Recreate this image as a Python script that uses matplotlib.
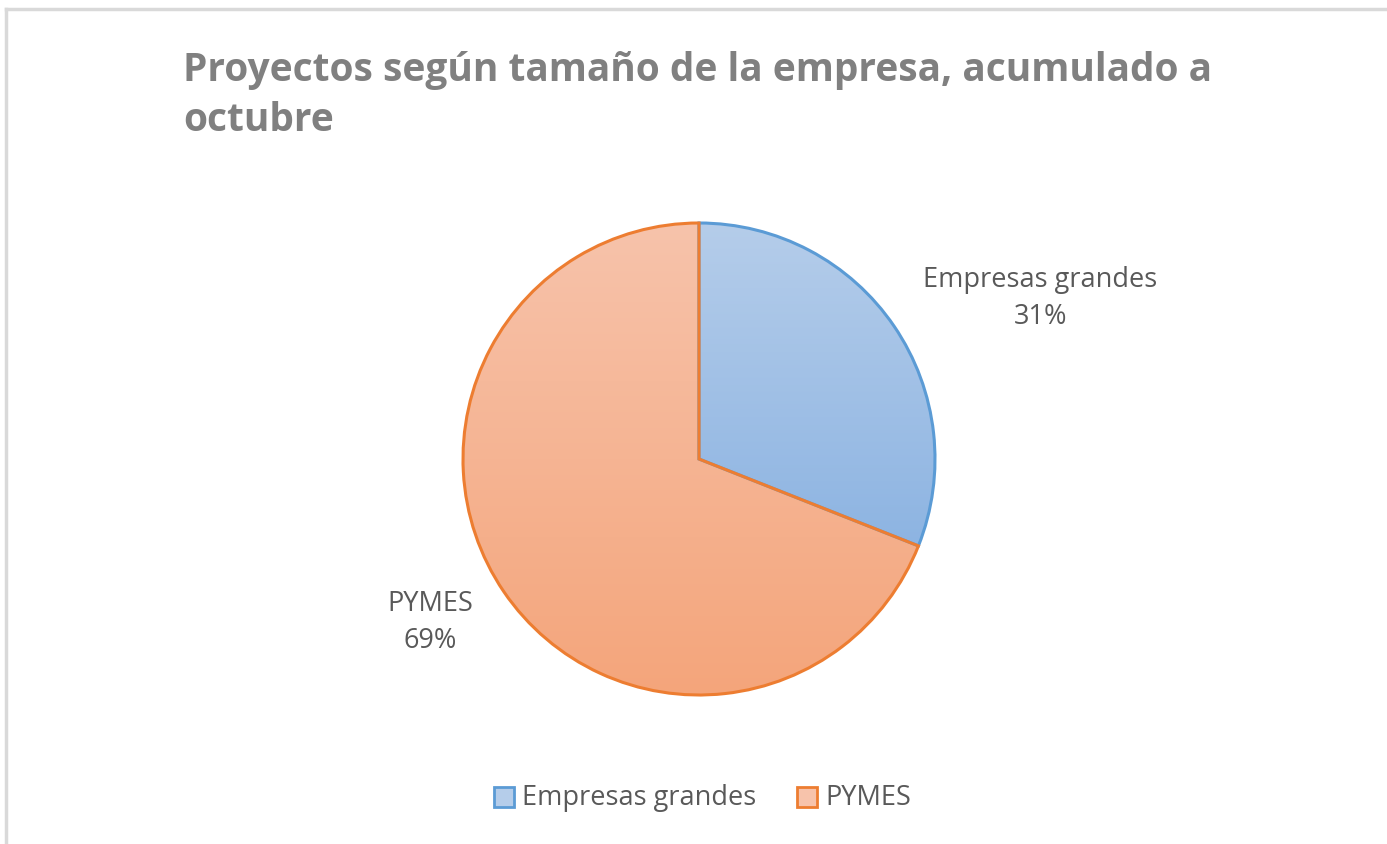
import numpy as np
import matplotlib.pyplot as plt
from matplotlib.lines import Line2D
from matplotlib.patches import Rectangle
from matplotlib.colors import LinearSegmentedColormap

categorias = ['Empresas grandes', 'PYMES']
valores = [31, 69]
etiquetas_pct = ['31%', '69%']

bordes = ['#5b9bd5', '#ed7d31']
grad_top = ['#b5cdea', '#f7c3ab']
grad_bot = ['#8db4e2', '#f4a57b']

W, H = 1387, 845
fig = plt.figure(figsize=(W / 100, H / 100), dpi=100)
ax = fig.add_axes([0, 0, 1, 1])
ax.set_aspect('equal')

cx, cy, r = 699, H - 460, 236
wedges, _ = ax.pie(valores, startangle=90, counterclock=False,
                   center=(cx, cy), radius=r, frame=True,
                   wedgeprops=dict(linewidth=2.2, edgecolor='none'))
ax.set_xlim(0, W)
ax.set_ylim(0, H)
ax.axis('off')

# relleno degradado por sector
for w, top, bot, ec in zip(wedges, grad_top, grad_bot, bordes):
    w.set_facecolor('none')
    ext = w.get_path().get_extents(w.get_transform())
    inv = ax.transData.inverted()
    (x0, y0), (x1, y1) = inv.transform([[ext.x0, ext.y0], [ext.x1, ext.y1]])
    cmap = LinearSegmentedColormap.from_list('g', [bot, top])
    grad = np.linspace(0, 1, 256).reshape(-1, 1)
    im = ax.imshow(grad, cmap=cmap, origin='lower', aspect='auto',
                   extent=[x0, x1, y0, y1], zorder=1)
    im.set_clip_path(w)
    w.set_edgecolor(ec)
    w.set_zorder(2)
ax.set_xlim(0, W)
ax.set_ylim(0, H)

# etiquetas de datos
fuente = ['Open Sans', 'DejaVu Sans']
pos_lbl = [(25.3, 1.60), (-148.8, 1.33)]
for (ang, f), cat, pct in zip(pos_lbl, categorias, etiquetas_pct):
    a = np.deg2rad(ang)
    x = cx + f * r * np.cos(a)
    y = cy + f * r * np.sin(a)
    ax.text(x, y, cat + '\n' + pct, ha='center', va='center', fontsize=19.5,
            color='#595959', family=fuente, linespacing=1.45)

# titulo
fig.text(183 / W, 1 - 81 / H, 'Proyectos según tamaño de la empresa, acumulado a',
         fontsize=28, fontweight='bold', color='#808080', family=fuente,
         ha='left', va='baseline')
fig.text(183 / W, 1 - 131 / H, 'octubre',
         fontsize=28, fontweight='bold', color='#808080', family=fuente,
         ha='left', va='baseline')

# leyenda
leg_x = [494, 797]
leg_y = H - 798
for lx, cat, top, bot, ec in zip(leg_x, categorias, grad_top, grad_bot, bordes):
    ax.add_patch(Rectangle((lx, leg_y - 10), 20, 20, facecolor=top,
                           edgecolor=ec, linewidth=2, zorder=3))
    ax.text(lx + 28, leg_y, cat, ha='left', va='center', fontsize=19.5,
            color='#595959', family=fuente)

# marco del grafico
fig.add_artist(Line2D([6 / W, 1], [1 - 10 / H, 1 - 10 / H], color='#d9d9d9', lw=2.5))
fig.add_artist(Line2D([6 / W, 6 / W], [0, 1 - 10 / H], color='#d9d9d9', lw=2.5))

fig.savefig('out.png', dpi=100, facecolor='white')
